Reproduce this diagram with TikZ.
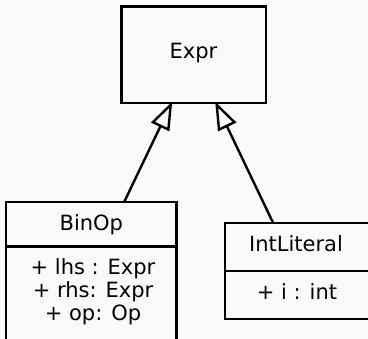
\documentclass[tikz,border=0pt]{standalone}
\usepackage{fontspec}
\setmainfont{DejaVu Sans}
\usetikzlibrary{arrows.meta}
\definecolor{bg}{HTML}{FAFAFA}
\begin{document}
\begin{tikzpicture}[x=1pt,y=-1pt,
  box/.style={draw=black, line width=2.4pt, inner sep=0pt, outer sep=0pt, anchor=north west},
  lbl/.style={anchor=base, inner sep=0pt, outer sep=0pt, font=\fontsize{21}{23}\selectfont},
  inherit/.style={line width=2.4pt, -{Triangle[open,length=28pt,width=20pt]}}]

% canvas
\fill[bg] (0,0) rectangle (368,339);
\useasboundingbox (0,0) rectangle (368,339);

% base class
\node[box, minimum width=144.2pt, minimum height=96.5pt] (expr) at (121.6,6.7) {};
\node[lbl] (exprt) at (193.5,58.3) {Expr};

% BinOp class: name compartment and attribute compartment
\node[box, minimum width=170.7pt, minimum height=44.4pt] (binop) at (6,202.3) {};
\node[box, minimum width=170.7pt, minimum height=94.3pt] (binopattr) at (6,246.7) {};
\node[lbl] (binopt) at (91.3,230.7) {BinOp};
\node[lbl] (binopa1) at (93,275) {+ lhs : Expr};
\node[lbl] (binopa2) at (93,298) {+ rhs: Expr};
\node[lbl] (binopa3) at (93,321) {+ op: Op};

% IntLiteral class
\node[box, minimum width=144pt, minimum height=47.7pt] (intlit) at (225,223.3) {};
\node[box, minimum width=144pt, minimum height=48pt] (intlitattr) at (225,271) {};
\node[lbl] (intlitt) at (296,251.7) {IntLiteral};
\node[lbl] (intlita1) at (297,299.3) {+ i : int};

% generalisation arrows
\draw[inherit] ([xshift=32.7pt]binop.north) -- ([xshift=-21.5pt,yshift=1.5pt]expr.south);
\draw[inherit] ([xshift=-23.7pt]intlit.north) -- ([xshift=21.5pt,yshift=1.5pt]expr.south);
\end{tikzpicture}
\end{document}
